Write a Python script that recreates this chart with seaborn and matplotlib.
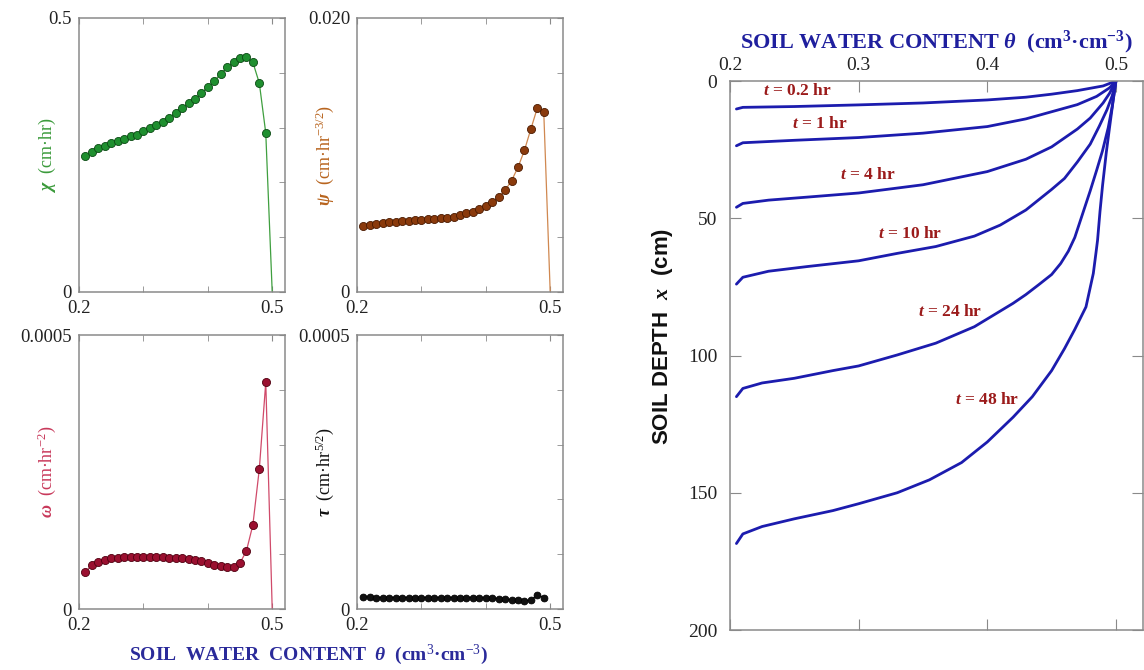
"""
Philip series coefficients (left) and infiltration depth profiles (right)
"""

import matplotlib
matplotlib.use("Agg")
import matplotlib.pyplot as plt
import seaborn as sns

# Water content grid of the coefficient points
theta_pts = [0.21, 0.22, 0.23, 0.24, 0.25, 0.26, 0.27, 0.28, 0.29, 0.30,
             0.31, 0.32, 0.33, 0.34, 0.35, 0.36, 0.37, 0.38, 0.39, 0.40,
             0.41, 0.42, 0.43, 0.44, 0.45, 0.46, 0.47, 0.48, 0.49]

chi_vals = [0.248, 0.255, 0.262, 0.267, 0.271, 0.275, 0.279, 0.284, 0.287, 0.294,
            0.299, 0.304, 0.311, 0.318, 0.327, 0.336, 0.344, 0.352, 0.363, 0.374,
            0.385, 0.398, 0.410, 0.419, 0.427, 0.428, 0.419, 0.381, 0.290]

psi_vals = [0.00484, 0.00489, 0.00496, 0.00501, 0.00509, 0.00513, 0.00518, 0.00521,
            0.00526, 0.00523, 0.00530, 0.00535, 0.00538, 0.00543, 0.00550, 0.00562,
            0.00574, 0.00586, 0.00608, 0.00630, 0.00655, 0.00693, 0.00742, 0.00813,
            0.00910, 0.01034, 0.01190, 0.01343, 0.01314]

omega_vals = [6.74e-5, 8.08e-5, 8.57e-5, 8.99e-5, 9.24e-5, 9.36e-5, 9.42e-5, 9.42e-5,
              9.42e-5, 9.42e-5, 9.42e-5, 9.42e-5, 9.42e-5, 9.36e-5, 9.30e-5, 9.24e-5,
              9.11e-5, 8.99e-5, 8.75e-5, 8.38e-5, 8.02e-5, 7.78e-5, 7.60e-5, 7.60e-5,
              8.38e-5, 1.063e-4, 1.537e-4, 2.558e-4, 4.138e-4]

tau_vals = [2.2e-5, 2.2e-5, 2.1e-5, 2.1e-5, 2.1e-5, 2.1e-5, 2.1e-5, 2.1e-5,
            2.1e-5, 2.1e-5, 2.1e-5, 2.1e-5, 2.1e-5, 2.1e-5, 2.1e-5, 2.1e-5,
            2.1e-5, 2.1e-5, 2.1e-5, 2.0e-5, 2.0e-5, 1.9e-5, 1.8e-5, 1.7e-5,
            1.6e-5, 1.5e-5, 1.6e-5, 2.6e-5, 2.1e-5]

# Depth profiles theta(x) at several times
theta_t02 = [0.205, 0.21, 0.25, 0.30, 0.35, 0.40, 0.43, 0.45, 0.47, 0.49, 0.50]
depth_t02 = [10.2, 9.6, 9.3, 8.7, 8.0, 6.9, 5.9, 4.8, 3.5, 1.8, 0.0]

theta_t1 = [0.205, 0.21, 0.25, 0.30, 0.35, 0.40, 0.43, 0.45, 0.47, 0.485, 0.495, 0.50]
depth_t1 = [23.6, 22.5, 21.6, 20.6, 19.0, 16.6, 13.8, 11.2, 8.6, 5.6, 2.5, 0.0]

theta_t4 = [0.205, 0.21, 0.23, 0.26, 0.30, 0.35, 0.40, 0.43, 0.45, 0.47, 0.48,
            0.49, 0.495, 0.50]
depth_t4 = [46.0, 44.6, 43.4, 42.3, 40.8, 37.8, 33.0, 28.5, 24.0, 17.5, 13.5,
            8.0, 4.5, 0.0]

theta_t10 = [0.205, 0.21, 0.23, 0.26, 0.30, 0.33, 0.36, 0.39, 0.41, 0.43, 0.45,
             0.46, 0.47, 0.48, 0.487, 0.493, 0.497, 0.50]
depth_t10 = [74.0, 71.5, 69.3, 67.6, 65.5, 62.8, 60.3, 56.5, 52.5, 47.0, 39.5,
             35.5, 29.5, 23.0, 16.5, 10.5, 5.5, 0.0]

theta_t24 = [0.205, 0.21, 0.225, 0.25, 0.28, 0.30, 0.33, 0.36, 0.39, 0.42, 0.43,
             0.44, 0.45, 0.457, 0.463, 0.468, 0.474, 0.48, 0.485, 0.4895, 0.494,
             0.497, 0.50]
depth_t24 = [115.0, 112.0, 110.0, 108.3, 105.5, 103.8, 99.8, 95.5, 89.5, 81.0, 77.8,
             74.2, 70.5, 66.5, 62.0, 57.0, 48.5, 40.0, 32.5, 25.5, 17.0,
             9.5, 0.0]

theta_t48 = [0.205, 0.21, 0.225, 0.25, 0.28, 0.30, 0.33, 0.355, 0.38, 0.40, 0.42,
             0.435, 0.45, 0.46, 0.468, 0.4767, 0.4824, 0.4845, 0.4857, 0.4876,
             0.4896, 0.4925, 0.495, 0.498, 0.50]
depth_t48 = [168.5, 165.0, 162.3, 159.5, 156.5, 154.0, 150.0, 145.3, 139.0, 131.5, 122.5,
             115.0, 105.5, 97.5, 90.5, 82.3, 70.1, 62.5, 58.0, 47.5,
             38.0, 26.0, 17.0, 6.5, 0.0]

time_labels = ["0.2", "1", "4", "10", "24", "48"]

SPINE = "#8a8a8a"
TICKTXT = "#222222"
BLUE_TXT = "#1f1f9e"


def small_panel(ax, vals, ytop, top_label, yminor, line_c, face_c, edge_c,
                label, label_c, drop=True, size=34):
    """One coefficient panel: dots plus thin connecting line"""
    xs = theta_pts + ([0.5] if drop else [])
    ys = vals + ([0.0] if drop else [])
    sns.lineplot(x=xs, y=ys, ax=ax, color=line_c, lw=0.9, sort=False, estimator=None)
    sns.scatterplot(x=theta_pts, y=vals, ax=ax, color=face_c, edgecolor=edge_c,
                    s=size, linewidth=0.6, zorder=3)

    ax.set_xlim(0.2, 0.52)
    ax.set_ylim(0, ytop)
    ax.set_xticks([0.2, 0.5])
    ax.set_xticklabels(["0.2", "0.5"])
    ax.set_xticks([0.3, 0.4], minor=True)
    ax.set_yticks([0, ytop])
    ax.set_yticklabels(["0", top_label])
    ax.set_yticks(yminor, minor=True)
    ax.tick_params(axis="x", which="both", direction="in", length=4, top=True,
                   bottom=True, labelsize=13.5, pad=6, colors=SPINE, labelcolor=TICKTXT)
    ax.tick_params(axis="y", which="both", direction="in", length=4, left=False,
                   right=True, labelsize=13.5, pad=5, colors=SPINE, labelcolor=TICKTXT)
    for sp in ax.spines.values():
        sp.set_color(SPINE)
        sp.set_linewidth(1.1)

    ax.set_xlabel("")
    ax.set_ylabel(label, color=label_c, fontsize=13)
    ax.yaxis.set_label_coords(-0.10, 0.5)


def main():
    sns.set_style("ticks")
    plt.rcParams["font.family"] = ["Liberation Serif", "DejaVu Serif"]
    plt.rcParams["mathtext.fontset"] = "custom"
    plt.rcParams["mathtext.rm"] = "Liberation Serif"
    plt.rcParams["mathtext.it"] = "Liberation Serif:italic:bold"
    plt.rcParams["mathtext.bf"] = "Liberation Serif:bold"

    fig = plt.figure(figsize=(11.44, 6.70), dpi=100)

    ax_chi = fig.add_axes([0.0691, 0.5642, 0.1801, 0.409])
    ax_psi = fig.add_axes([0.3121, 0.5642, 0.1801, 0.409])
    ax_omg = fig.add_axes([0.0691, 0.0910, 0.1801, 0.409])
    ax_tau = fig.add_axes([0.3121, 0.0910, 0.1801, 0.409])
    ax_r = fig.add_axes([0.6381, 0.0597, 0.3610, 0.8194])

    small_panel(ax_chi, chi_vals, 0.5, "0.5", [0.1, 0.2, 0.3, 0.4],
                "#3f9f3f", "#1f8f2f", "#0b4a14", "$\\chi$  (cm·hr)", "#3a9a3a")
    small_panel(ax_psi, psi_vals, 0.020, "0.020", [0.004, 0.008, 0.012, 0.016],
                "#d08850", "#8a3a0c", "#4a1a00",
                "$\\psi$  (cm·hr$^{-3/2}$)", "#b8641e")
    small_panel(ax_omg, omega_vals, 0.0005, "0.0005", [0.0001, 0.0002, 0.0003, 0.0004],
                "#d04a6a", "#9a1030", "#500010",
                "$\\omega$  (cm·hr$^{-2}$)", "#c8385a")
    small_panel(ax_tau, tau_vals, 0.0005, "0.0005", [0.0001, 0.0002, 0.0003, 0.0004],
                "#111111", "#111111", "#000000",
                "$\\tau$  (cm·hr$^{5/2}$)", "#111111", drop=False, size=24)

    fig.text(308 / 1144, 1 - 655 / 670,
             "SOIL  WATER  CONTENT  $\\theta$  (cm$^{3}$·cm$^{-3}$)",
             color="#2a2a9a", fontsize=14, fontweight="bold", ha="center", va="center")

    # Right panel: depth profiles
    profiles = [(theta_t02, depth_t02), (theta_t1, depth_t1), (theta_t4, depth_t4),
                (theta_t10, depth_t10), (theta_t24, depth_t24), (theta_t48, depth_t48)]
    for th, d in profiles:
        sns.lineplot(x=th, y=d, ax=ax_r, color="#1c1cae", lw=2.0, sort=False, estimator=None)

    label_pos = [(0.252, 3.6), (0.270, 15.8), (0.307, 34.3),
                 (0.340, 55.9), (0.371, 84.1), (0.400, 116.3)]
    for t, (lx, ly) in zip(time_labels, label_pos):
        ax_r.text(lx, ly, f"$t$ = {t} hr", color="#9b1b1b", fontsize=12.5,
                  fontweight="bold", ha="center", va="center")

    ax_r.set_xlim(0.2, 0.521)
    ax_r.set_ylim(200, 0)
    ax_r.set_xticks([0.2, 0.3, 0.4, 0.5])
    ax_r.set_xticklabels(["0.2", "0.3", "0.4", "0.5"])
    ax_r.set_yticks([0, 50, 100, 150, 200])
    ax_r.set_yticklabels(["0", "50", "100", "150", "200"])
    ax_r.xaxis.tick_top()
    ax_r.xaxis.set_label_position("top")
    ax_r.tick_params(axis="x", direction="in", length=8, top=True, bottom=True,
                     labeltop=True, labelbottom=False, labelsize=14, pad=5,
                     colors=SPINE, labelcolor=TICKTXT)
    ax_r.tick_params(axis="y", direction="in", length=8, left=True, right=True,
                     labelsize=14, pad=9, colors=SPINE, labelcolor=TICKTXT)
    for sp in ax_r.spines.values():
        sp.set_color(SPINE)
        sp.set_linewidth(1.1)

    ax_r.set_xlabel("SOIL WATER CONTENT $\\theta$  (cm$^{\\mathbf{3}}$·cm$^{\\mathbf{-3}}$)",
                    color=BLUE_TXT, fontsize=16, fontweight="bold", labelpad=6)
    ax_r.set_ylabel("SOIL DEPTH  $x$  (cm)", family=["Liberation Sans", "DejaVu Sans"],
                    fontsize=16, fontweight="bold", color="#111111")
    ax_r.yaxis.set_label_coords(-0.133, 0.535)

    fig.savefig("out.png", dpi=100)


if __name__ == "__main__":
    main()
